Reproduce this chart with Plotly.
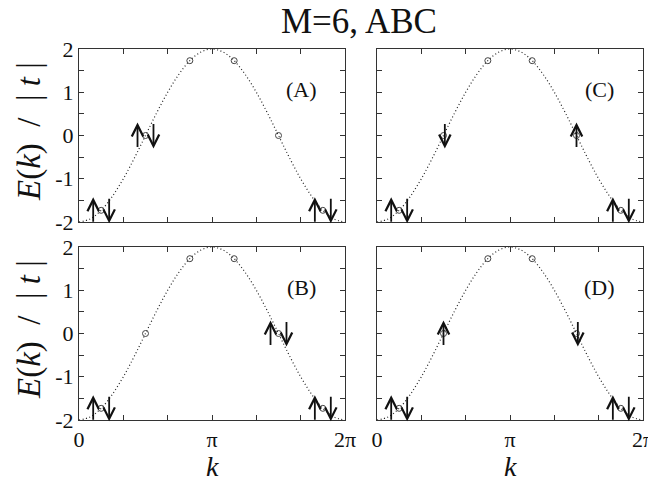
import plotly.graph_objects as go

# dispersion curve (k in units of pi), E/|t|
k_curve = [0, 0.0833, 0.1667, 0.25, 0.3333, 0.4167, 0.5, 0.5833, 0.6667, 0.75, 0.8333, 0.9167,
           1.0, 1.0833, 1.1667, 1.25, 1.3333, 1.4167, 1.5, 1.5833, 1.6667, 1.75, 1.8333, 1.9167, 2.0]
E_curve = [-2.0, -1.93, -1.73, -1.41, -1.0, -0.52, 0.0, 0.52, 1.0, 1.41, 1.73, 1.93,
           2.0, 1.93, 1.73, 1.41, 1.0, 0.52, 0.0, -0.52, -1.0, -1.41, -1.73, -1.93, -2.0]

# allowed k points for M=6, ABC (k in units of pi)
k_pts = [0.1667, 0.5, 0.8333, 1.1667, 1.5, 1.8333]
E_pts = [-1.73, 0.0, 1.73, 1.73, 0.0, -1.73]

# occupations: (point index, spins) per panel
panels = ["A", "C", "B", "D"]
occ_A = [(0, "ud"), (1, "ud"), (5, "ud")]
occ_C = [(0, "ud"), (1, "d"), (4, "u"), (5, "ud")]
occ_B = [(0, "ud"), (4, "ud"), (5, "ud")]
occ_D = [(0, "ud"), (1, "u"), (4, "d"), (5, "ud")]
occs = [occ_A, occ_C, occ_B, occ_D]

serif = "Liberation Serif"
fig = go.Figure()

L, R, T, B = 79, 5, 49, 65
W, H = 648, 485
pw, ph = W - L - R, H - T - B
colx = [(0, 266 / pw), ((377 - L) / pw, 1)]
rowy = [((420 - 222) / ph, 1), (0, 173 / ph)]

annotations = []
shift = 0.06
half = 0.3
for i, (name, occ) in enumerate(zip(panels, occs)):
    r, c = divmod(i, 2)
    sfx = "" if i == 0 else str(i + 1)
    xa, ya = "x" + sfx, "y" + sfx
    fig.add_trace(go.Scatter(x=k_curve, y=E_curve, mode="lines",
                             line=dict(color="#222", width=1.2, dash="1px,2.5px", shape="spline"),
                             xaxis=xa, yaxis=ya, showlegend=False, hoverinfo="skip"))
    fig.add_trace(go.Scatter(x=k_pts, y=E_pts, mode="markers",
                             marker=dict(symbol="circle-open", size=6, color="#444", line=dict(width=1)),
                             xaxis=xa, yaxis=ya, showlegend=False))
    for idx, spins in occ:
        kx, ey = k_pts[idx], E_pts[idx]
        if spins == "ud":
            items = [("u", kx - shift), ("d", kx + shift)]
        elif spins == "u":
            items = [("u", kx)]
        else:
            items = [("d", kx + 0.01)]
        for s, xx in items:
            if s == "u":
                head, tail = ey + half, ey - half
            else:
                head, tail = ey - half, ey + half
            annotations.append(dict(x=xx, y=head, ax=xx, ay=tail, xref=xa, yref=ya, axref=xa, ayref=ya,
                                    text="", showarrow=True, arrowhead=5, arrowsize=1.25, arrowwidth=1.8,
                                    arrowcolor="#111"))
    annotations.append(dict(x=1.67, y=1.07, xref=xa, yref=ya, text="(" + name + ")", showarrow=False,
                            xanchor="center", yanchor="middle",
                            font=dict(family=serif, size=22, color="#111")))
    axcommon = dict(showline=True, linecolor="#333", linewidth=1, mirror="ticks", ticks="inside",
                    ticklen=5, tickcolor="#333", showgrid=False, zeroline=False, automargin=False)
    fig.layout["xaxis" + sfx] = dict(axcommon, domain=colx[c], range=[0, 2], anchor=ya,
                                     tickvals=[0, 1/3, 2/3, 1, 4/3, 5/3, 2],
                                     ticktext=["0", "", "", "π", "", "", "2π"],
                                     showticklabels=(r == 1), ticklabeloverflow="allow",
                                     tickfont=dict(family=serif, size=22, color="#111"))
    fig.layout["yaxis" + sfx] = dict(axcommon, domain=rowy[r], range=[-2, 2], anchor=xa,
                                     tickvals=[-2, -1.5, -1, -0.5, 0, 0.5, 1, 1.5, 2],
                                     ticktext=["-2", "", "-1", "", "0", "", "1", "", "2"],
                                     showticklabels=(c == 0),
                                     tickfont=dict(family=serif, size=22, color="#111"))

# axis titles and main title
for yc in [(420 - 132) / ph, (420 - 330) / ph]:
    annotations.append(dict(x=(29 - L) / pw, y=yc, xref="paper", yref="paper", textangle=-90,
                            xanchor="center", yanchor="middle",
                            text="<i>E</i>(<i>k</i>)  /  | <i>t</i> |", showarrow=False,
                            font=dict(family=serif, size=33, color="#111")))
for xc in [(212 - L) / pw, (510 - L) / pw]:
    annotations.append(dict(x=xc, y=(420 - 467) / ph, xref="paper", yref="paper", text="<i>k</i>",
                            xanchor="center", yanchor="middle",
                            showarrow=False, font=dict(family=serif, size=28, color="#111")))
annotations.append(dict(x=(359 - L) / pw, y=(420 - 21) / ph, xref="paper", yref="paper", text="M=6, ABC",
                        xanchor="center", yanchor="middle",
                        showarrow=False, font=dict(family=serif, size=35, color="#111")))

fig.update_layout(width=W, height=H, margin=dict(l=L, r=R, t=T, b=B), plot_bgcolor="white",
                  paper_bgcolor="white", annotations=annotations, showlegend=False)
fig.write_html("out.html")
